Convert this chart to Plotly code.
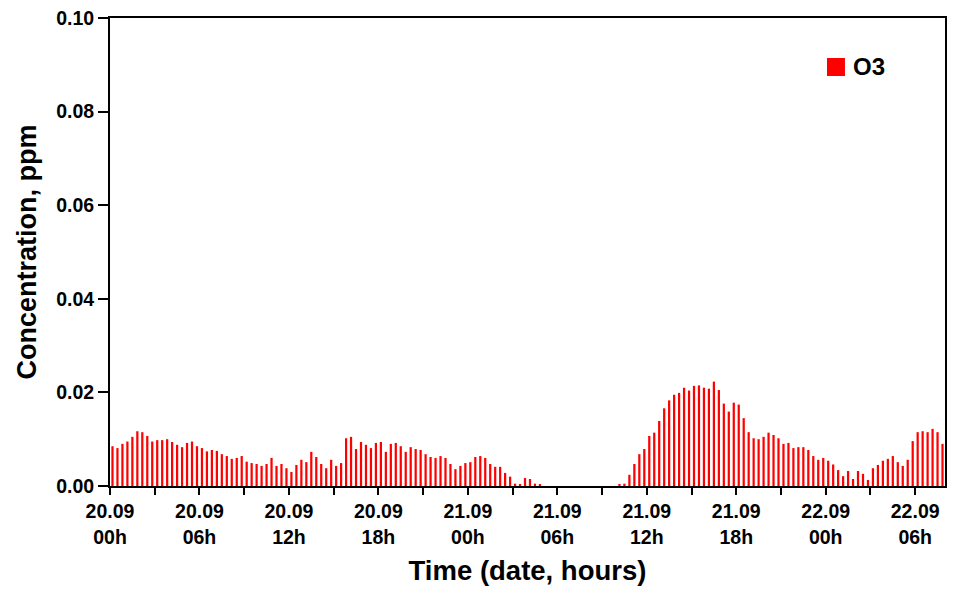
import plotly.graph_objects as go
import pandas as pd

# 20-minute averaged O3 concentrations (ppm), starting 20.09 00:00
times = pd.date_range("2008-09-20 00:10", periods=168, freq="20min")
o3 = [
    0.0085, 0.0081, 0.0090, 0.0095, 0.0105, 0.0117, 0.0115, 0.0107, 0.0095, 0.0098,
    0.0098, 0.0100, 0.0094, 0.0088, 0.0083, 0.0092, 0.0095, 0.0085, 0.0081, 0.0074,
    0.0077, 0.0075, 0.0068, 0.0064, 0.0058, 0.0060, 0.0064, 0.0052, 0.0049, 0.0047,
    0.0043, 0.0047, 0.0060, 0.0043, 0.0047, 0.0038, 0.0030, 0.0045, 0.0056, 0.0051,
    0.0073, 0.0062, 0.0047, 0.0038, 0.0056, 0.0043, 0.0049, 0.0102, 0.0105, 0.0079,
    0.0094, 0.0088, 0.0081, 0.0092, 0.0094, 0.0073, 0.0090, 0.0092, 0.0085, 0.0073,
    0.0083, 0.0079, 0.0077, 0.0068, 0.0062, 0.0060, 0.0064, 0.0060, 0.0047, 0.0036,
    0.0043, 0.0049, 0.0051, 0.0062, 0.0064, 0.0060, 0.0047, 0.0041, 0.0041, 0.0028,
    0.0020, 0.0005, 0.0004, 0.0017, 0.0015, 0.0005, 0.0003, 0.0, 0.0, 0.0,
    0.0, 0.0, 0.0, 0.0, 0.0, 0.0, 0.0, 0.0, 0.0, 0.0,
    0.0, 0.0, 0.0003, 0.0005, 0.0024, 0.0047, 0.0068, 0.0079, 0.0107, 0.0114,
    0.0139, 0.0166, 0.0183, 0.0195, 0.0199, 0.0210, 0.0204, 0.0214, 0.0215, 0.0210,
    0.0208, 0.0223, 0.0205, 0.0176, 0.0159, 0.0178, 0.0174, 0.0145, 0.0115, 0.0102,
    0.0100, 0.0105, 0.0114, 0.0109, 0.0102, 0.0090, 0.0092, 0.0081, 0.0083, 0.0083,
    0.0077, 0.0064, 0.0056, 0.0060, 0.0054, 0.0046, 0.0034, 0.0021, 0.0032, 0.0015,
    0.0032, 0.0026, 0.0013, 0.0038, 0.0045, 0.0054, 0.0058, 0.0064, 0.0051, 0.0043,
    0.0056, 0.0096, 0.0115, 0.0117, 0.0115, 0.0122, 0.0115, 0.0090,
]

tick_times = pd.date_range("2008-09-20 00:00", "2008-09-22 06:00", freq="3h")
tick_labels = [
    "20.09<br>00h", "", "20.09<br>06h", "", "20.09<br>12h", "", "20.09<br>18h", "",
    "21.09<br>00h", "", "21.09<br>06h", "", "21.09<br>12h", "", "21.09<br>18h", "",
    "22.09<br>00h", "", "22.09<br>06h",
]
y_ticks = [0.00, 0.02, 0.04, 0.06, 0.08, 0.10]
series_name = "O3"
series_color = "#FF0000"

font_family = "Liberation Sans, Arial, sans-serif"

fig = go.Figure()
fig.add_trace(go.Bar(
    x=times, y=o3, name=series_name, showlegend=False,
    marker=dict(color=series_color, line=dict(width=0)),
))

# legend drawn as a square + text (matches the large key of the original)
fig.add_shape(type="rect", xref="paper", yref="paper",
              x0=0.8587, x1=0.8802, y0=0.8761, y1=0.9145,
              fillcolor=series_color, line=dict(width=0))
fig.add_annotation(xref="paper", yref="paper", x=0.8874, y=0.8953,
                   xanchor="left", yanchor="middle", showarrow=False,
                   text=f"<b>{series_name}</b>",
                   font=dict(size=24, family=font_family, color="black"))

fig.update_layout(
    width=962, height=590,
    margin=dict(l=110, r=17, t=18, b=104),
    paper_bgcolor="white", plot_bgcolor="white",
    bargap=0.55,
    font=dict(family=font_family, color="black"),
    xaxis=dict(
        range=[pd.Timestamp("2008-09-20 00:00"), pd.Timestamp("2008-09-22 08:00")],
        tickvals=tick_times, ticktext=tick_labels,
        tickfont=dict(size=19.5, weight="bold"),
        ticks="outside", ticklen=7, tickwidth=2, tickcolor="black",
        showline=True, linecolor="black", linewidth=2, mirror=True,
        showgrid=False, zeroline=False, automargin=False,
        title=dict(text="Time (date, hours)", font=dict(size=27.5, weight="bold"), standoff=14),
    ),
    yaxis=dict(
        range=[0, 0.10],
        tickvals=y_ticks, ticktext=[f"{v:.2f}" for v in y_ticks],
        tickfont=dict(size=19.5, weight="bold"),
        ticks="outside", ticklen=10, tickwidth=2, tickcolor="black",
        showline=True, linecolor="black", linewidth=2, mirror=True,
        showgrid=False, zeroline=False, automargin=False,
        title=dict(text="Concentration, ppm", font=dict(size=27, weight="bold"), standoff=12),
    ),
)

fig.write_html("out.html")
